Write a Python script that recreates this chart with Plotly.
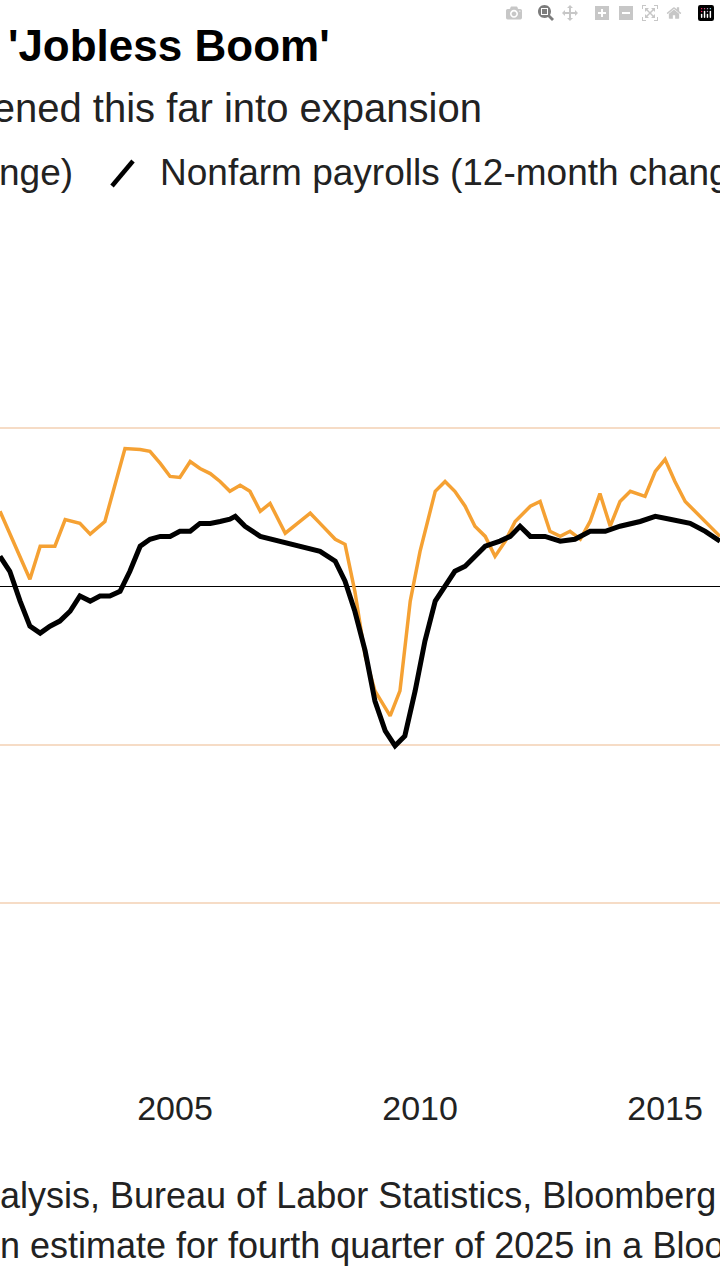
import plotly.graph_objects as go

# GDP, annual % change (quarterly)
gdp_years = [2001.43, 2002.04, 2002.25, 2002.55, 2002.76, 2003.06, 2003.27, 2003.57, 2003.98,
             2004.29, 2004.49, 2004.70, 2004.90, 2005.10, 2005.31, 2005.51, 2005.72, 2005.92,
             2006.12, 2006.33, 2006.53, 2006.74, 2006.94, 2007.25, 2007.55, 2007.76, 2007.96,
             2008.27, 2008.47, 2008.67, 2008.88, 2009.08, 2009.39, 2009.59, 2009.80, 2010.00,
             2010.31, 2010.51, 2010.71, 2010.92, 2011.12, 2011.33, 2011.53, 2011.74, 2011.94,
             2012.25, 2012.45, 2012.65, 2012.86, 2013.06, 2013.27, 2013.47, 2013.67, 2013.88,
             2014.08, 2014.29, 2014.59, 2014.80, 2015.00, 2015.20, 2015.41, 2015.71, 2015.92, 2016.12]
gdp_values = [2.36, 0.22, 1.26, 1.26, 2.10, 1.98, 1.64, 2.04, 4.34,
              4.31, 4.25, 3.87, 3.46, 3.43, 3.93, 3.71, 3.55, 3.30,
              2.99, 3.18, 2.99, 2.36, 2.61, 1.67, 2.04, 2.30, 1.98,
              1.48, 1.32, -0.16, -2.20, -3.30, -4.09, -3.30, -0.47, 1.10,
              2.99, 3.30, 2.99, 2.52, 1.89, 1.57, 0.94, 1.42, 2.04,
              2.52, 2.67, 1.73, 1.57, 1.73, 1.48, 2.04, 2.92, 1.89,
              2.67, 2.99, 2.83, 3.62, 4.00, 3.30, 2.67, 2.20, 1.89, 1.57]

# Nonfarm payrolls, 12-month % change
nfp_years = [2001.43, 2001.63, 2001.84, 2002.04, 2002.25, 2002.45, 2002.65, 2002.86, 2003.06,
             2003.27, 2003.47, 2003.67, 2003.88, 2004.08, 2004.29, 2004.49, 2004.70, 2004.90,
             2005.10, 2005.31, 2005.51, 2005.72, 2005.92, 2006.12, 2006.23, 2006.43, 2006.74,
             2007.14, 2007.55, 2007.96, 2008.27, 2008.47, 2008.67, 2008.88, 2009.08, 2009.29,
             2009.49, 2009.69, 2009.90, 2010.10, 2010.31, 2010.51, 2010.71, 2010.92, 2011.12,
             2011.33, 2011.63, 2011.84, 2012.04, 2012.25, 2012.55, 2012.86, 2013.16, 2013.47,
             2013.78, 2014.08, 2014.49, 2014.80, 2015.10, 2015.51, 2015.82, 2016.12]
nfp_values = [0.94, 0.47, -0.47, -1.26, -1.48, -1.26, -1.10, -0.79, -0.31,
              -0.47, -0.31, -0.31, -0.16, 0.47, 1.26, 1.48, 1.57, 1.57,
              1.73, 1.73, 1.98, 1.98, 2.04, 2.11, 2.20, 1.89, 1.57,
              1.42, 1.26, 1.10, 0.79, 0.16, -0.79, -2.04, -3.62, -4.56,
              -5.03, -4.72, -3.30, -1.73, -0.47, 0.00, 0.47, 0.63, 0.94,
              1.26, 1.42, 1.57, 1.89, 1.57, 1.57, 1.42, 1.48, 1.73,
              1.73, 1.89, 2.04, 2.20, 2.11, 1.98, 1.73, 1.42]

x_ticks = [2005, 2010, 2015]
y_grid = [-15, -10, -5, 0, 5, 10]

W, H = 720, 1280
TOP, BOT = 268, 1063
FONT = "Liberation Sans, Arial, sans-serif"


def px(x):
    return x / W


def py(y):
    return (BOT - y) / (BOT - TOP)


fig = go.Figure()
fig.add_trace(go.Scatter(x=gdp_years, y=gdp_values, mode="lines",
                         line=dict(color="#f5a133", width=3.5)))
fig.add_trace(go.Scatter(x=nfp_years, y=nfp_values, mode="lines",
                         line=dict(color="#000000", width=5)))

fig.update_layout(
    width=W, height=H, showlegend=False,
    plot_bgcolor="white", paper_bgcolor="white",
    margin=dict(l=0, r=0, t=TOP, b=H - BOT),
    font=dict(family=FONT, color="#000"),
    xaxis=dict(range=[2001.43, 2016.12], tickvals=x_ticks, showgrid=False,
               zeroline=False, ticks="", ticklabelstandoff=22,
               tickfont=dict(size=34, color="#222")),
    yaxis=dict(range=[-15.03, 10.03], tickvals=y_grid, showticklabels=False,
               gridcolor="#f6dcc6", gridwidth=1.5, zeroline=True,
               zerolinecolor="#000", zerolinewidth=1.2),
)

ann = [
    dict(text="<b>U.S. Economy Enters a 'Jobless Boom'</b>", x=px(332), y=py(45),
         xanchor="right", font=dict(size=44)),
    dict(text="Payroll growth has never weakened this far into expansion", x=px(484), y=py(108),
         xanchor="right", font=dict(size=40, color="#222")),
    dict(text="nge)", x=px(-3), y=py(172), xanchor="left", font=dict(size=37, color="#222")),
    dict(text="Nonfarm payrolls (12-month change)", x=px(158), y=py(172),
         xanchor="left", font=dict(size=37, color="#222")),
    dict(text="alysis, Bureau of Labor Statistics, Bloomberg", x=px(-2), y=py(1195),
         xanchor="left", font=dict(size=36, color="#222")),
    dict(text="n estimate for fourth quarter of 2025 in a Bloomberg survey", x=px(-2), y=py(1245),
         xanchor="left", font=dict(size=36, color="#222")),
]
for a in ann:
    fig.add_annotation(xref="paper", yref="paper", yanchor="middle", showarrow=False, **a)

fig.add_shape(type="line", xref="paper", yref="paper", x0=px(112), x1=px(133),
              y0=py(186), y1=py(161), line=dict(color="#000", width=4.5))

fig.write_html("out.html", post_script="document.body.style.margin='0';")
